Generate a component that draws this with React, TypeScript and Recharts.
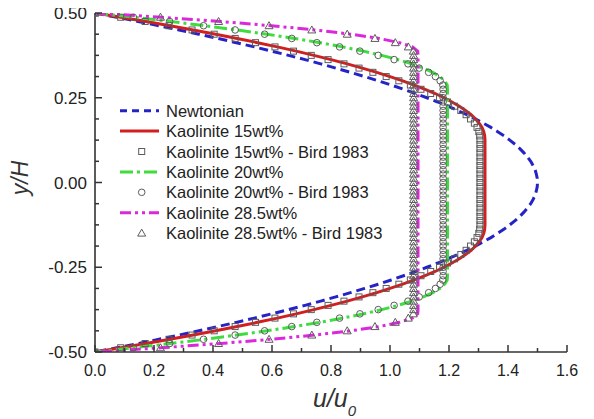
import React from "react";
import { ComposedChart, Line, Scatter, XAxis, YAxis, Legend } from "recharts";

// y/H positions shared by every profile (top wall to bottom wall)
const yPos = [
  0.5, 0.4875, 0.475, 0.4625, 0.45, 0.4375, 0.425, 0.4125, 0.4, 0.3875,
  0.375, 0.3625, 0.35, 0.3375, 0.325, 0.3125, 0.3, 0.2875, 0.275, 0.2625,
  0.25, 0.2375, 0.225, 0.2125, 0.2, 0.1875, 0.175, 0.1625, 0.15, 0.1375,
  0.125, 0.1125, 0.1, 0.0875, 0.075, 0.0625, 0.05, 0.0375, 0.025, 0.0125,
  0,
  -0.0125, -0.025, -0.0375, -0.05, -0.0625, -0.075, -0.0875, -0.1, -0.1125, -0.125,
  -0.1375, -0.15, -0.1625, -0.175, -0.1875, -0.2, -0.2125, -0.225, -0.2375, -0.25,
  -0.2625, -0.275, -0.2875, -0.3, -0.3125, -0.325, -0.3375, -0.35, -0.3625, -0.375,
  -0.3875, -0.4, -0.4125, -0.425, -0.4375, -0.45, -0.4625, -0.475, -0.4875, -0.5,
];

const newtonian = [
  0, 0.074, 0.146, 0.217, 0.285, 0.352, 0.416, 0.479, 0.54, 0.599,
  0.656, 0.712, 0.765, 0.816, 0.866, 0.914, 0.96, 1.004, 1.046, 1.087,
  1.125, 1.162, 1.196, 1.229, 1.26, 1.289, 1.316, 1.342, 1.365, 1.387,
  1.406, 1.424, 1.44, 1.454, 1.466, 1.477, 1.485, 1.492, 1.496, 1.499,
  1.5,
  1.499, 1.496, 1.492, 1.485, 1.477, 1.466, 1.454, 1.44, 1.424, 1.406,
  1.387, 1.365, 1.342, 1.316, 1.289, 1.26, 1.229, 1.196, 1.162, 1.125,
  1.087, 1.046, 1.004, 0.96, 0.914, 0.866, 0.816, 0.765, 0.712, 0.656,
  0.599, 0.54, 0.479, 0.416, 0.352, 0.285, 0.217, 0.146, 0.074, 0,
];

const kao15 = [
  0, 0.088, 0.173, 0.254, 0.333, 0.409, 0.482, 0.551, 0.618, 0.682,
  0.742, 0.8, 0.855, 0.906, 0.955, 1.0, 1.043, 1.082, 1.119, 1.153,
  1.183, 1.21, 1.235, 1.256, 1.275, 1.29, 1.302, 1.312, 1.318, 1.321,
  1.322, 1.322, 1.322, 1.322, 1.322, 1.322, 1.322, 1.322, 1.322, 1.322,
  1.322,
  1.322, 1.322, 1.322, 1.322, 1.322, 1.322, 1.322, 1.322, 1.322, 1.322,
  1.321, 1.318, 1.312, 1.302, 1.29, 1.275, 1.256, 1.235, 1.21, 1.183,
  1.153, 1.119, 1.082, 1.043, 1.0, 0.955, 0.906, 0.855, 0.8, 0.742,
  0.682, 0.618, 0.551, 0.482, 0.409, 0.333, 0.254, 0.173, 0.088, 0,
];

const kao15Bird = [
  0, 0.087, 0.17, 0.251, 0.329, 0.404, 0.475, 0.544, 0.61, 0.673,
  0.733, 0.79, 0.844, 0.895, 0.942, 0.987, 1.03, 1.069, 1.105, 1.138,
  1.168, 1.195, 1.219, 1.24, 1.258, 1.273, 1.286, 1.295, 1.301, 1.304,
  1.305, 1.305, 1.305, 1.305, 1.305, 1.305, 1.305, 1.305, 1.305, 1.305,
  1.305,
  1.305, 1.305, 1.305, 1.305, 1.305, 1.305, 1.305, 1.305, 1.305, 1.305,
  1.304, 1.301, 1.295, 1.286, 1.273, 1.258, 1.24, 1.219, 1.195, 1.168,
  1.138, 1.105, 1.069, 1.03, 0.987, 0.942, 0.895, 0.844, 0.79, 0.733,
  0.673, 0.61, 0.544, 0.475, 0.404, 0.329, 0.251, 0.17, 0.087, 0,
];

const kao20 = [
  0, 0.132, 0.256, 0.373, 0.481, 0.583, 0.676, 0.762, 0.839, 0.91,
  0.972, 1.027, 1.074, 1.113, 1.145, 1.169, 1.185, 1.194, 1.195, 1.195,
  1.195, 1.195, 1.195, 1.195, 1.195, 1.195, 1.195, 1.195, 1.195, 1.195,
  1.195, 1.195, 1.195, 1.195, 1.195, 1.195, 1.195, 1.195, 1.195, 1.195,
  1.195,
  1.195, 1.195, 1.195, 1.195, 1.195, 1.195, 1.195, 1.195, 1.195, 1.195,
  1.195, 1.195, 1.195, 1.195, 1.195, 1.195, 1.195, 1.195, 1.195, 1.195,
  1.195, 1.195, 1.194, 1.185, 1.169, 1.145, 1.113, 1.074, 1.027, 0.972,
  0.91, 0.839, 0.762, 0.676, 0.583, 0.481, 0.373, 0.256, 0.132, 0,
];

const kao20Bird = [
  0, 0.13, 0.253, 0.368, 0.475, 0.575, 0.667, 0.752, 0.829, 0.898,
  0.96, 1.014, 1.061, 1.099, 1.131, 1.154, 1.17, 1.179, 1.18, 1.18,
  1.18, 1.18, 1.18, 1.18, 1.18, 1.18, 1.18, 1.18, 1.18, 1.18,
  1.18, 1.18, 1.18, 1.18, 1.18, 1.18, 1.18, 1.18, 1.18, 1.18,
  1.18,
  1.18, 1.18, 1.18, 1.18, 1.18, 1.18, 1.18, 1.18, 1.18, 1.18,
  1.18, 1.18, 1.18, 1.18, 1.18, 1.18, 1.18, 1.18, 1.18, 1.18,
  1.18, 1.18, 1.179, 1.17, 1.154, 1.131, 1.099, 1.061, 1.014, 0.96,
  0.898, 0.829, 0.752, 0.667, 0.575, 0.475, 0.368, 0.253, 0.13, 0,
];

const kao285 = [
  0, 0.225, 0.424, 0.598, 0.745, 0.867, 0.963, 1.032, 1.076, 1.094,
  1.095, 1.095, 1.095, 1.095, 1.095, 1.095, 1.095, 1.095, 1.095, 1.095,
  1.095, 1.095, 1.095, 1.095, 1.095, 1.095, 1.095, 1.095, 1.095, 1.095,
  1.095, 1.095, 1.095, 1.095, 1.095, 1.095, 1.095, 1.095, 1.095, 1.095,
  1.095,
  1.095, 1.095, 1.095, 1.095, 1.095, 1.095, 1.095, 1.095, 1.095, 1.095,
  1.095, 1.095, 1.095, 1.095, 1.095, 1.095, 1.095, 1.095, 1.095, 1.095,
  1.095, 1.095, 1.095, 1.095, 1.095, 1.095, 1.095, 1.095, 1.095, 1.095,
  1.094, 1.076, 1.032, 0.963, 0.867, 0.745, 0.598, 0.424, 0.225, 0,
];

const kao285Bird = [
  0, 0.222, 0.419, 0.59, 0.735, 0.855, 0.949, 1.018, 1.062, 1.079,
  1.08, 1.08, 1.08, 1.08, 1.08, 1.08, 1.08, 1.08, 1.08, 1.08,
  1.08, 1.08, 1.08, 1.08, 1.08, 1.08, 1.08, 1.08, 1.08, 1.08,
  1.08, 1.08, 1.08, 1.08, 1.08, 1.08, 1.08, 1.08, 1.08, 1.08,
  1.08,
  1.08, 1.08, 1.08, 1.08, 1.08, 1.08, 1.08, 1.08, 1.08, 1.08,
  1.08, 1.08, 1.08, 1.08, 1.08, 1.08, 1.08, 1.08, 1.08, 1.08,
  1.08, 1.08, 1.08, 1.08, 1.08, 1.08, 1.08, 1.08, 1.08, 1.08,
  1.079, 1.062, 1.018, 0.949, 0.855, 0.735, 0.59, 0.419, 0.222, 0,
];

const seriesNames = [
  "Newtonian",
  "Kaolinite 15wt%",
  "Kaolinite 15wt% - Bird 1983",
  "Kaolinite 20wt%",
  "Kaolinite 20wt% - Bird 1983",
  "Kaolinite 28.5wt%",
  "Kaolinite 28.5wt% - Bird 1983",
];

const xTicks = [0, 0.1, 0.2, 0.3, 0.4, 0.5, 0.6, 0.7, 0.8, 0.9, 1.0, 1.1, 1.2, 1.3, 1.4, 1.5, 1.6];
const yTicks = [
  -0.5, -0.4375, -0.375, -0.3125, -0.25, -0.1875, -0.125, -0.0625, 0,
  0.0625, 0.125, 0.1875, 0.25, 0.3125, 0.375, 0.4375, 0.5,
];

const toPoints = (u: number[]) => yPos.map((y, i) => ({ u: u[i], y }));

const FONT = "'Liberation Sans', Arial, sans-serif";
const AXIS = "#333";
const MARK = "#5c5c5c";

const BLUE = "#2323c8";
const RED = "#d21e1e";
const GREEN = "#3fdc3f";
const MAGENTA = "#dc28dc";

const DASH_N = "9 5";
const DASH_G = "13 4 3 4";
const DASH_M = "11 4 3 4 3 4";

const isMajorX = (v: number) => Math.round(v * 10) % 2 === 0;
const isMajorY = (v: number) => Math.abs(v * 4 - Math.round(v * 4)) < 1e-6;

const BottomTick = ({ x, y, payload }: any) => {
  const v = payload.value;
  const major = isMajorX(v);
  return (
    <g>
      <line x1={x} x2={x} y1={y} y2={y - (major ? 7 : 4)} stroke={AXIS} strokeWidth={1.5} />
      {major && (
        <text x={x} y={y + 24} textAnchor="middle" fontSize={16} fontFamily={FONT} fill="#222">
          {v.toFixed(1)}
        </text>
      )}
    </g>
  );
};

const TopTick = ({ x, y, payload }: any) => (
  <line x1={x} x2={x} y1={y} y2={y + (isMajorX(payload.value) ? 7 : 4)} stroke={AXIS} strokeWidth={1.5} />
);

const LeftTick = ({ x, y, payload }: any) => {
  const v = payload.value;
  const major = isMajorY(v);
  return (
    <g>
      <line x1={x} x2={x + (major ? 7 : 4)} y1={y} y2={y} stroke={AXIS} strokeWidth={1.5} />
      {major && (
        <text x={x - 8} y={y + 6} textAnchor="end" fontSize={17} fontFamily={FONT} fill="#222">
          {v.toFixed(2)}
        </text>
      )}
    </g>
  );
};

const RightTick = ({ x, y, payload }: any) => (
  <line x1={x} x2={x - (isMajorY(payload.value) ? 7 : 4)} y1={y} y2={y} stroke={AXIS} strokeWidth={1.5} />
);

const Square = ({ cx, cy }: any) =>
  cx == null ? null : (
    <rect x={cx - 3} y={cy - 3} width={6} height={6} fill="none" stroke={MARK} strokeWidth={1} />
  );

const Circle = ({ cx, cy }: any) =>
  cx == null ? null : <circle cx={cx} cy={cy} r={3.3} fill="none" stroke={MARK} strokeWidth={1} />;

const Triangle = ({ cx, cy }: any) =>
  cx == null ? null : (
    <polygon
      points={`${cx},${cy - 4} ${cx + 4},${cy + 3} ${cx - 4},${cy + 3}`}
      fill="none"
      stroke={MARK}
      strokeWidth={1}
    />
  );

const legendLine = (x1: number, x2: number, y: number, color: string, dash?: string) => (
  <line x1={x1} x2={x2} y1={y} y2={y} stroke={color} strokeWidth={3} strokeDasharray={dash} />
);

const renderLegend = () => {
  const rowY = (i: number) => 10.7 + i * 20.4;
  const samples = [
    (y: number) => legendLine(8, 47, y, BLUE, "7 5"),
    (y: number) => legendLine(8, 47, y, RED),
    (y: number) => <Square cx={29.7} cy={y} />,
    (y: number) => legendLine(8, 47, y, GREEN, DASH_G),
    (y: number) => <Circle cx={29.7} cy={y} />,
    (y: number) => legendLine(8, 47, y, MAGENTA, DASH_M),
    (y: number) => <Triangle cx={29.7} cy={y} />,
  ];
  return (
    <svg width={270} height={150}>
      {seriesNames.map((name, i) => (
        <g key={name}>
          {samples[i](rowY(i))}
          <text x={54} y={rowY(i) + 6} fontSize={16.5} fontFamily={FONT} fill="#222">
            {name}
          </text>
        </g>
      ))}
    </svg>
  );
};

const XTitle = () => (
  <text x={313} y={407} fontSize={25} fontStyle="italic" fontFamily={FONT} fill="#333">
    u/u
    <tspan fontSize={15} dy={9}>
      0
    </tspan>
  </text>
);

const YTitle = () => (
  <text
    x={28}
    y={178}
    transform="rotate(-90, 28, 178)"
    textAnchor="middle"
    fontSize={23}
    fontStyle="italic"
    fontFamily={FONT}
    fill="#333"
  >
    y/H
  </text>
);

export default function App() {
  const axisLine = { stroke: AXIS, strokeWidth: 1.6 };
  return (
    <div style={{ margin: "-8px 0 0 -8px" }}>
      <ComposedChart width={594} height={419} margin={{ top: 13, right: 27, bottom: 0, left: 0 }}>
        <XAxis
          xAxisId="b"
          type="number"
          dataKey="u"
          domain={[0, 1.6]}
          ticks={xTicks}
          interval={0}
          tickSize={0}
          tickMargin={0}
          tickLine={false}
          height={67}
          axisLine={axisLine}
          tick={BottomTick}
          allowDataOverflow
          label={{ content: XTitle }}
        />
        <XAxis
          xAxisId="t"
          orientation="top"
          type="number"
          dataKey="u"
          domain={[0, 1.6]}
          ticks={xTicks}
          interval={0}
          tickSize={0}
          tickMargin={0}
          tickLine={false}
          height={0}
          axisLine={axisLine}
          tick={TopTick}
          allowDataOverflow
        />
        <YAxis
          yAxisId="l"
          type="number"
          dataKey="y"
          domain={[-0.5, 0.5]}
          ticks={yTicks}
          interval={0}
          width={95}
          tickSize={0}
          tickMargin={0}
          tickLine={false}
          axisLine={axisLine}
          tick={LeftTick}
          allowDataOverflow
          label={{ content: YTitle }}
        />
        <YAxis
          yAxisId="r"
          orientation="right"
          type="number"
          dataKey="y"
          domain={[-0.5, 0.5]}
          ticks={yTicks}
          interval={0}
          width={0}
          tickSize={0}
          tickMargin={0}
          tickLine={false}
          axisLine={axisLine}
          tick={RightTick}
          allowDataOverflow
        />
        <Legend
          layout="vertical"
          align="center"
          verticalAlign="middle"
          content={renderLegend}
          wrapperStyle={{ left: 112, top: 100, width: 270, height: 150 }}
        />
        <Line xAxisId="b" yAxisId="l" data={toPoints(newtonian)} dataKey="y" stroke={BLUE} strokeWidth={3} strokeDasharray={DASH_N} dot={false} isAnimationActive={false} />
        <Line xAxisId="b" yAxisId="l" data={toPoints(kao15)} dataKey="y" stroke={RED} strokeWidth={3} dot={false} isAnimationActive={false} />
        <Scatter xAxisId="b" yAxisId="l" data={toPoints(kao15Bird)} dataKey="y" shape={Square} isAnimationActive={false} />
        <Line xAxisId="b" yAxisId="l" data={toPoints(kao20)} dataKey="y" stroke={GREEN} strokeWidth={3} strokeDasharray={DASH_G} dot={false} isAnimationActive={false} />
        <Scatter xAxisId="b" yAxisId="l" data={toPoints(kao20Bird)} dataKey="y" shape={Circle} isAnimationActive={false} />
        <Line xAxisId="b" yAxisId="l" data={toPoints(kao285)} dataKey="y" stroke={MAGENTA} strokeWidth={3} strokeDasharray={DASH_M} dot={false} isAnimationActive={false} />
        <Scatter xAxisId="b" yAxisId="l" data={toPoints(kao285Bird)} dataKey="y" shape={Triangle} isAnimationActive={false} />
      </ComposedChart>
    </div>
  );
}
